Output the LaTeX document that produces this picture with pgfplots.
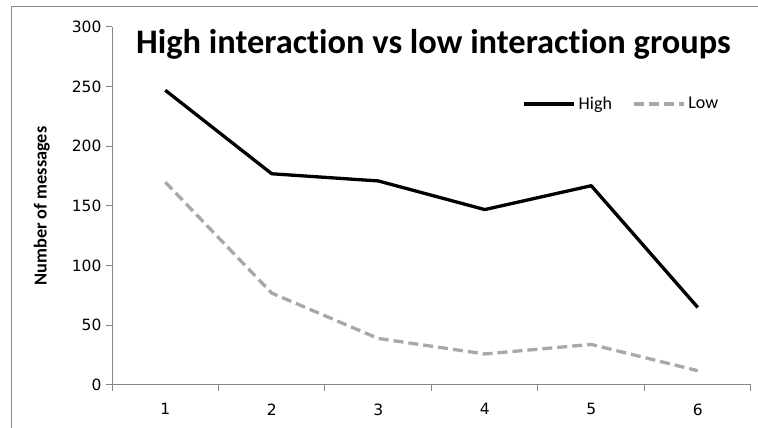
\documentclass[border=0pt]{standalone}
\usepackage{pgfplots}
\pgfplotsset{compat=1.18}
\usepackage{fontspec}
\setmainfont{Carlito}[Ligatures=NoCommon]
\newfontfamily\verd{DejaVu Sans}
\definecolor{axgray}{RGB}{134,134,134}
\definecolor{lowgray}{RGB}{168,168,168}
\begin{document}
\begin{tikzpicture}[x=1pt,y=1pt]
\begin{axis}[
  at={(112pt,43pt)}, anchor=south west,
  scale only axis, width=639pt, height=358pt,
  xmin=0.5, xmax=6.5, ymin=0, ymax=300,
  axis x line*=bottom, axis y line*=left,
  axis line style={axgray, line width=1pt},
  xtick={1,...,6}, minor xtick={0.5,1.5,...,6.5},
  major x tick style={draw=none},
  minor x tick style={axgray, line width=1pt},
  minor tick length=6pt,
  ytick={0,50,...,300},
  major y tick style={axgray, line width=1pt},
  major tick length=6pt,
  tick align=outside,
  /pgf/number format/assume math mode=true,
  ticklabel style={font=\verd\fontsize{15.5}{17}\selectfont, text=black},
  yticklabel style={xshift=-1pt},
  xticklabel style={yshift=-9pt},
  ylabel={\bfseries Number of messages},
  ylabel style={font=\fontsize{18.3}{20}\selectfont, at={(axis description cs:-0.092,0.5)}, anchor=south},
  title={\bfseries High interaction vs low interaction groups},
  title style={font=\fontsize{34.4}{40}\selectfont, at={(axis description cs:0.503,0.908)}, anchor=base},
  legend style={draw=none, fill=none, at={(axis description cs:0.642,0.785)}, anchor=west,
    font=\fontsize{18}{20}\selectfont, legend columns=2,
    /tikz/every even column/.append style={column sep=17pt},
    inner sep=0pt, nodes={inner sep=3pt}},
  legend image code/.code={\draw[#1] (0pt,0pt) -- (50pt,0pt);},
  clip=false,
]
\addplot[black, line width=3.3pt, line join=round] coordinates {
  (1,247) (2,177) (3,171) (4,147) (5,167) (6,65)
};
\addlegendentry{High}
\addplot[lowgray, line width=3.3pt, dash pattern=on 10pt off 5pt, line join=round] coordinates {
  (1,170) (2,77) (3,39) (4,26) (5,34) (6,12)
};
\addlegendentry{Low}
\end{axis}
\draw[axgray, line width=1pt] (11,0) -- (11,421.5) -- (758,421.5);
\pgfresetboundingbox
\path (0,0) rectangle (758,428);
\end{tikzpicture}
\end{document}
